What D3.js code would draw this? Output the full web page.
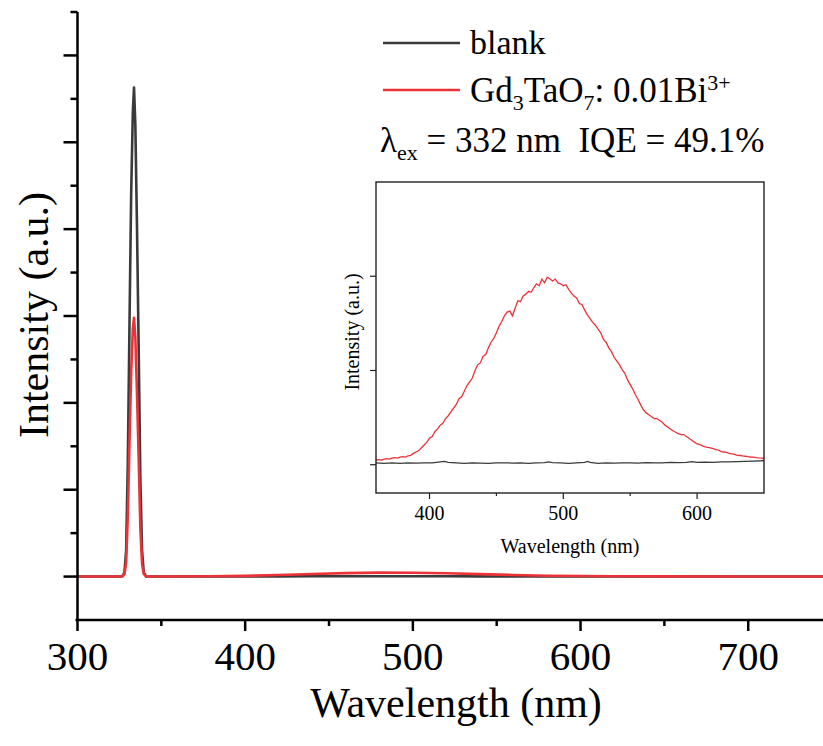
<!DOCTYPE html>
<html>
<head>
<meta charset="utf-8">
<script src="https://cdn.jsdelivr.net/npm/d3@7"></script>
<style>
  body { margin: 0; background: #fff; }
  svg { display: block; }
  svg text { font-family: "Liberation Serif", "Times New Roman", serif; }
</style>
</head>
<body>
<script>
// main spectrum (wavelength in nm, intensity in arbitrary units)
var mainWl = [300, 320, 326, 327, 328, 329, 330, 331, 332, 333, 333.7, 334.5, 335.5, 336.5, 337.5, 338.5, 339.5, 341, 350,
	380, 400, 420, 440, 460, 480, 500, 520, 540, 560, 580, 600, 620, 650, 700, 745];
var mainBlank = [0, 0, 0, 0.01, 0.05, 0.3, 1.3, 2.9, 4.4, 5.35, 5.63, 5.2, 4.0, 2.6, 1.1, 0.3, 0.05, 0, 0,
	0, 0, 0.002, 0.003, 0.004, 0.004, 0.004, 0.003, 0.002, 0.001, 0, 0, 0, 0, 0, 0];
var mainSample = [0, 0, 0, 0.005, 0.03, 0.16, 0.7, 1.55, 2.35, 2.85, 2.98, 2.75, 2.1, 1.35, 0.55, 0.15, 0.03, 0, 0,
	0.003, 0.008, 0.018, 0.03, 0.04, 0.045, 0.044, 0.038, 0.028, 0.018, 0.01, 0.006, 0.004, 0.002, 0.001, 0];

var mainXTicks = [300, 400, 500, 600, 700];
var mainXMinor = [350, 450, 550, 650];
var mainYMajor = [0, 1, 2, 3, 4, 5, 6];
var mainYMinor = [0.5, 1.5, 2.5, 3.5, 4.5, 5.5, 6.5];

// inset spectrum, sampled every 2 nm from 360 to 650 nm
var insetWl = d3.range(360, 651, 2);
var insetSample = [
	0.05, 0.055, 0.05, 0.06, 0.065, 0.06, 0.07, 0.075, 0.07, 0.08,
	0.085, 0.08, 0.095, 0.1, 0.12, 0.135, 0.15, 0.18, 0.21, 0.24,
	0.28, 0.3, 0.35, 0.38, 0.42, 0.44, 0.49, 0.52, 0.56, 0.6,
	0.64, 0.7, 0.72, 0.78, 0.84, 0.88, 0.92, 1.0, 1.06, 1.08,
	1.15, 1.17, 1.24, 1.3, 1.34, 1.4, 1.47, 1.52, 1.58, 1.62,
	1.63, 1.58, 1.66, 1.74, 1.73, 1.79, 1.81, 1.84, 1.83, 1.88,
	1.92, 1.9, 1.97, 1.93, 1.99, 1.97, 1.95, 1.97, 1.93, 1.92,
	1.9, 1.91, 1.86, 1.82, 1.79, 1.77, 1.71, 1.7, 1.64, 1.59,
	1.55, 1.51, 1.48, 1.44, 1.4, 1.33, 1.3, 1.24, 1.2, 1.14,
	1.1, 1.06, 1.01, 0.97, 0.9, 0.85, 0.8, 0.74, 0.69, 0.63,
	0.58, 0.55, 0.53, 0.51, 0.49, 0.49, 0.47, 0.45, 0.42, 0.4,
	0.38, 0.36, 0.345, 0.33, 0.32, 0.32, 0.3, 0.28, 0.26, 0.24,
	0.22, 0.215, 0.2, 0.19, 0.185, 0.18, 0.17, 0.16, 0.155, 0.14,
	0.135, 0.13, 0.12, 0.115, 0.11, 0.1, 0.098, 0.093, 0.09, 0.085,
	0.082, 0.08, 0.075, 0.072, 0.07, 0.068];
var insetBlankWl = [360, 366, 372, 378, 384, 390, 396, 402, 408, 411, 414, 420, 426, 432, 438, 444, 450, 456, 462, 468,
	474, 480, 486, 489, 492, 498, 504, 510, 516, 518, 520, 526, 532, 538, 544, 550, 556, 562, 568, 574,
	580, 586, 592, 596, 600, 606, 612, 618, 624, 630, 636, 642, 648, 650];
var insetBlank = [0.02, 0.015, 0.02, 0.015, 0.02, 0.018, 0.02, 0.02, 0.03, 0.035, 0.025, 0.02, 0.015, 0.02, 0.018, 0.015, 0.02, 0.02, 0.018, 0.02,
	0.015, 0.02, 0.022, 0.03, 0.022, 0.02, 0.015, 0.02, 0.025, 0.035, 0.025, 0.015, 0.02, 0.018, 0.02, 0.02, 0.018, 0.022, 0.02, 0.02,
	0.025, 0.022, 0.025, 0.032, 0.025, 0.028, 0.025, 0.03, 0.03, 0.032, 0.035, 0.038, 0.042, 0.045];
var insetXTicks = [400, 500, 600];
var insetXMinor = [450, 550];
var insetYTicks = [0, 1, 2];

var blankColor = "#3a3a3a";
var sampleColor = "#ec3237";
var serif = "Liberation Serif, Times New Roman, serif";

var W = 823, H = 746;
var svg = d3.select("body").append("svg")
	.attr("width", W).attr("height", H)
	.attr("font-family", serif);

// ---- main plot ----
var x = d3.scaleLinear().domain([300, 744.6]).range([77.5, 823]);
var y = d3.scaleLinear().domain([-0.5, 6.5]).range([620, 12]);

var line = d3.line()
	.x(function(d) { return x(d[0]); })
	.y(function(d) { return y(d[1]); });

svg.append("path")
	.attr("d", line(d3.zip(mainWl, mainBlank)))
	.attr("fill", "none")
	.attr("stroke", blankColor)
	.attr("stroke-width", 2.6)
	.attr("stroke-linejoin", "round");

svg.append("path")
	.attr("d", line(d3.zip(mainWl, mainSample)))
	.attr("fill", "none")
	.attr("stroke", sampleColor)
	.attr("stroke-width", 2.6)
	.attr("stroke-linejoin", "round");

// bottom axis
var xAxis = svg.append("g").attr("transform", "translate(0,620)");
xAxis.append("line")
	.attr("x1", x(300) - 2).attr("x2", W).attr("y1", 0).attr("y2", 0)
	.attr("stroke", "#000").attr("stroke-width", 2.5);
xAxis.selectAll(".xmaj").data(mainXTicks).enter().append("line")
	.attr("x1", function(d) { return x(d); }).attr("x2", function(d) { return x(d); })
	.attr("y1", 0).attr("y2", 11)
	.attr("stroke", "#000").attr("stroke-width", 2.5);
xAxis.selectAll(".xmin").data(mainXMinor).enter().append("line")
	.attr("x1", function(d) { return x(d); }).attr("x2", function(d) { return x(d); })
	.attr("y1", 0).attr("y2", 6)
	.attr("stroke", "#000").attr("stroke-width", 2.5);
xAxis.selectAll("text").data(mainXTicks).enter().append("text")
	.attr("x", function(d) { return x(d); })
	.attr("y", 50)
	.attr("text-anchor", "middle")
	.attr("font-size", 41)
	.text(function(d) { return d; });

// left axis
var yAxis = svg.append("g").attr("transform", "translate(" + x(300) + ",0)");
yAxis.append("line")
	.attr("x1", 0).attr("x2", 0).attr("y1", y(6.5)).attr("y2", 621)
	.attr("stroke", "#000").attr("stroke-width", 2.5);
yAxis.selectAll(".ymaj").data(mainYMajor).enter().append("line")
	.attr("x1", -14).attr("x2", 0)
	.attr("y1", function(d) { return y(d); }).attr("y2", function(d) { return y(d); })
	.attr("stroke", "#000").attr("stroke-width", 2.5);
yAxis.selectAll(".ymin").data(mainYMinor).enter().append("line")
	.attr("x1", -7).attr("x2", 0)
	.attr("y1", function(d) { return y(d); }).attr("y2", function(d) { return y(d); })
	.attr("stroke", "#000").attr("stroke-width", 2.5);

// axis titles
svg.append("text")
	.attr("x", 456).attr("y", 717)
	.attr("text-anchor", "middle")
	.attr("font-size", 42)
	.text("Wavelength (nm)");
svg.append("text")
	.attr("transform", "translate(48,315) rotate(-90)")
	.attr("text-anchor", "middle")
	.attr("font-size", 42)
	.text("Intensity (a.u.)");

// legend
var legend = svg.append("g");
legend.append("line").attr("x1", 383).attr("x2", 460).attr("y1", 43).attr("y2", 43)
	.attr("stroke", blankColor).attr("stroke-width", 2.5);
legend.append("line").attr("x1", 383).attr("x2", 460).attr("y1", 90).attr("y2", 90)
	.attr("stroke", sampleColor).attr("stroke-width", 2.5);
legend.append("text").attr("x", 470).attr("y", 54).attr("font-size", 34).text("blank");

var t2 = legend.append("text").attr("x", 470).attr("y", 102).attr("font-size", 35);
t2.append("tspan").text("Gd");
t2.append("tspan").attr("font-size", 22).attr("dy", 8).text("3");
t2.append("tspan").attr("dy", -8).text("TaO");
t2.append("tspan").attr("font-size", 22).attr("dy", 8).text("7");
t2.append("tspan").attr("dy", -8).text(": 0.01Bi");
t2.append("tspan").attr("font-size", 22).attr("dy", -12).text("3+");

var t3 = legend.append("text").attr("x", 380).attr("y", 152).attr("font-size", 35)
	.style("white-space", "pre");
t3.append("tspan").text("\u03bb");
t3.append("tspan").attr("font-size", 22).attr("dy", 8).text("ex");
t3.append("tspan").attr("dy", -8).text(" = 332 nm  IQE = 49.1%");

// ---- inset ----
var ix = d3.scaleLinear().domain([360, 650]).range([376, 764]);
var iy = d3.scaleLinear().domain([-0.3, 3.0]).range([493, 182]);

var iline = d3.line()
	.x(function(d) { return ix(d[0]); })
	.y(function(d) { return iy(d[1]); });

var inset = svg.append("g");
inset.append("rect")
	.attr("x", 376).attr("y", 182).attr("width", 388).attr("height", 311)
	.attr("fill", "#fff");

inset.append("path")
	.attr("d", iline(d3.zip(insetBlankWl, insetBlank)))
	.attr("fill", "none").attr("stroke", blankColor).attr("stroke-width", 1.3);
inset.append("path")
	.attr("d", iline(d3.zip(insetWl, insetSample)))
	.attr("fill", "none").attr("stroke", sampleColor).attr("stroke-width", 1.3);

inset.append("rect")
	.attr("x", 376).attr("y", 182).attr("width", 388).attr("height", 311)
	.attr("fill", "none").attr("stroke", "#222").attr("stroke-width", 1.4);

inset.selectAll(".ixt").data(insetXTicks).enter().append("line")
	.attr("x1", function(d) { return ix(d); }).attr("x2", function(d) { return ix(d); })
	.attr("y1", 493).attr("y2", 499)
	.attr("stroke", "#222").attr("stroke-width", 1.2);
inset.selectAll(".ixm").data(insetXMinor).enter().append("line")
	.attr("x1", function(d) { return ix(d); }).attr("x2", function(d) { return ix(d); })
	.attr("y1", 493).attr("y2", 496)
	.attr("stroke", "#222").attr("stroke-width", 1.2);
inset.selectAll(".iyt").data(insetYTicks).enter().append("line")
	.attr("x1", 370).attr("x2", 376)
	.attr("y1", function(d) { return iy(d); }).attr("y2", function(d) { return iy(d); })
	.attr("stroke", "#222").attr("stroke-width", 1.2);
inset.selectAll(".ixl").data(insetXTicks).enter().append("text")
	.attr("x", function(d) { return ix(d); })
	.attr("y", 520)
	.attr("text-anchor", "middle")
	.attr("font-size", 20)
	.text(function(d) { return d; });
inset.append("text")
	.attr("x", 570).attr("y", 553)
	.attr("text-anchor", "middle")
	.attr("font-size", 20)
	.text("Wavelength (nm)");
inset.append("text")
	.attr("transform", "translate(359,332) rotate(-90)")
	.attr("text-anchor", "middle")
	.attr("font-size", 20)
	.text("Intensity (a.u.)");
</script>
</body>
</html>
